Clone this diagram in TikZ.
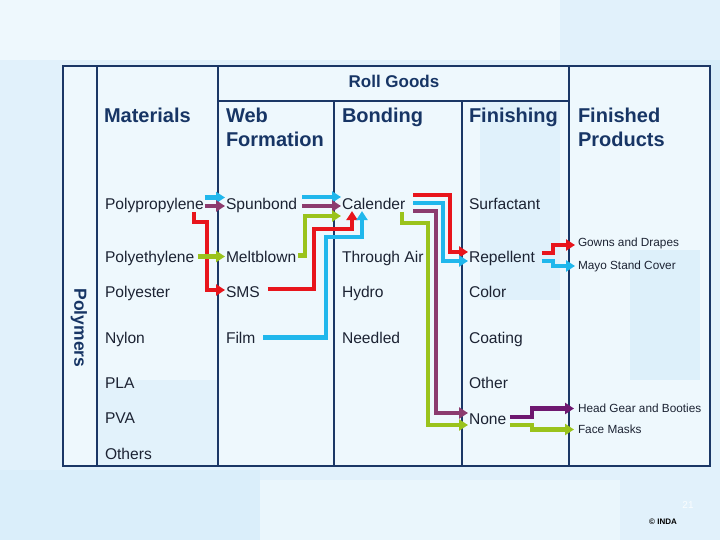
\documentclass[tikz,border=0pt]{standalone}
\usepackage{fontspec}
\setmainfont{Liberation Sans}
\usetikzlibrary{arrows.meta}
\definecolor{navy}{HTML}{173565}
\definecolor{framec}{HTML}{1B3766}
\definecolor{itemc}{HTML}{1C2333}
\definecolor{bgc}{HTML}{E1F1FB}
\definecolor{bgl}{HTML}{EEF8FD}
\definecolor{bgd}{HTML}{D6ECF9}
\definecolor{cy}{HTML}{20B7EC}
\definecolor{mauve}{HTML}{8C3B6E}
\definecolor{grn}{HTML}{9AC31C}
\definecolor{rd}{HTML}{E8151C}
\definecolor{dpurp}{HTML}{6E1870}
\tikzset{
  itm/.style={anchor=west, inner sep=0pt, outer sep=0pt, text height=11.2pt, text depth=0pt,
    font=\fontsize{15.6}{18}\selectfont, text=itemc},
  prod/.style={anchor=west, inner sep=0pt, outer sep=0pt, text height=8.45pt, text depth=0pt,
    font=\fontsize{11.8}{14}\selectfont, text=itemc},
  hdr/.style={anchor=north west, inner sep=0pt, outer sep=0pt, align=left,
    font=\fontsize{20}{24}\selectfont\bfseries, text=navy},
  frame/.style={draw=framec, line width=2.5pt},
  conn/.style={line width=4.3pt, -{Triangle[length=9pt,width=11pt]}},
}
\begin{document}
\begin{tikzpicture}[x=1pt,y=-1pt]
\useasboundingbox (0,0) rectangle (720,540);
% background
\fill[bgc] (0,0) rectangle (720,540);
\fill[bgl] (0,0) rectangle (560,60);
\fill[bgd] (620,60) rectangle (720,110);
\fill[bgl] (63,66) rectangle (710,466);
\fill[bgd!60!bgl] (480,100) rectangle (560,300);
\fill[bgd!70!bgl] (630,250) rectangle (700,380);
\fill[bgd!50!bgl] (97,380) rectangle (218,466);
\fill[bgd!60!bgc] (0,470) rectangle (260,540);
\fill[bgl!70!bgc] (260,480) rectangle (620,540);
% frame
\draw[frame] (63,66) rectangle (710,466);
\draw[frame] (97,66) -- (97,466);
\draw[frame] (218,66) -- (218,466);
\draw[frame] (569,66) -- (569,466);
\draw[frame] (218,101) -- (569,101);
\draw[frame] (334,101) -- (334,466);
\draw[frame] (462,101) -- (462,466);
% titles
\node[inner sep=0pt, font=\fontsize{17}{20}\selectfont\bfseries, text=navy] (rg) at (394,81) {Roll Goods};
\node[inner sep=0pt, rotate=-90, font=\fontsize{17.5}{20}\selectfont\bfseries, text=navy] (poly) at (79,328) {Polymers};
\node[hdr] (hmat) at (104,108.5) {Materials};
\node[hdr] (hweb) at (226,108.5) {Web\\Formation};
\node[hdr] (hbond) at (342,108.5) {Bonding};
\node[hdr] (hfin) at (469,108.5) {Finishing};
\node[hdr] (hprod) at (578,108.5) {Finished\\Products};
% materials
\node[itm] (pp) at (105,204) {Polypropylene};
\node[itm] (pe) at (105,256.5) {Polyethylene};
\node[itm] (pest) at (105,292) {Polyester};
\node[itm] (nyl) at (105,337.5) {Nylon};
\node[itm] (pla) at (105,382.5) {PLA};
\node[itm] (pva) at (105,418) {PVA};
\node[itm] (oth) at (105,454) {Others};
% web formation
\node[itm] (spun) at (226,204) {Spunbond};
\node[itm] (mb) at (226,256.5) {Meltblown};
\node[itm] (sms) at (226,292) {SMS};
\node[itm] (film) at (226,337.5) {Film};
% bonding
\node[itm] (cal) at (342,204) {Calender};
\node[itm] (tair) at (342,256.5) {Through Air};
\node[itm] (hyd) at (342,292) {Hydro};
\node[itm] (need) at (342,337.5) {Needled};
% finishing
\node[itm] (surf) at (469,204) {Surfactant};
\node[itm] (rep) at (469,256.5) {Repellent};
\node[itm] (col) at (469,292) {Color};
\node[itm] (coat) at (469,337.5) {Coating};
\node[itm] (othr) at (469,382.5) {Other};
\node[itm] (none) at (469,419) {None};
% products
\node[prod] (gown) at (578,242.5) {Gowns and Drapes};
\node[prod] (mayo) at (578,265) {Mayo Stand Cover};
\node[prod] (head) at (578,408.5) {Head Gear and Booties};
\node[prod] (face) at (578,429.5) {Face Masks};
% footer
\node[inner sep=0pt, font=\fontsize{10}{12}\selectfont, text=white!85!bgc] (pg) at (688,505) {21};
\node[inner sep=0pt, font=\fontsize{8}{10}\selectfont\bfseries, text=black] (inda) at (663,522) {© INDA};
% connectors
\draw[conn,cy] ([xshift=1pt,yshift=6.5pt]pp.east) -- ([xshift=-1pt,yshift=6.5pt]spun.west);
\draw[conn,mauve] ([xshift=1pt,yshift=-2pt]pp.east) -- ([xshift=-1pt,yshift=-2pt]spun.west);
\draw[conn,rd] ([xshift=-10pt,yshift=-8pt]pp.east) |- (207,222) |- ([xshift=-1pt,yshift=2pt]sms.west);
\draw[conn,grn] ([xshift=3.5pt]pe.east) -- ([xshift=-1pt]mb.west);
\draw[conn,cy] ([xshift=5pt,yshift=7pt]spun.east) -- ([xshift=-1pt,yshift=7pt]cal.west);
\draw[conn,mauve] ([xshift=5pt,yshift=-2pt]spun.east) -- ([xshift=-1pt,yshift=-2pt]cal.west);
\draw[conn,grn] ([xshift=2pt,yshift=1pt]mb.east) -| (305,216) -- ([xshift=-1pt,yshift=-12pt]cal.west);
\draw[conn,rd] ([xshift=8pt,yshift=3pt]sms.east) -| (314,229) -| ([xshift=10pt,yshift=-1.5pt]cal.south west);
\draw[conn,cy] ([xshift=8pt]film.east) -| (326,237) -| ([xshift=20pt,yshift=-1.5pt]cal.south west);
\draw[conn,rd] ([xshift=8pt,yshift=9pt]cal.east) -| (450,252) -- ([xshift=-1pt,yshift=4.5pt]rep.west);
\draw[conn,cy] ([xshift=8pt,yshift=1pt]cal.east) -| (443,261) -- ([xshift=-1pt,yshift=-4.5pt]rep.west);
\draw[conn,mauve] ([xshift=8pt,yshift=-7pt]cal.east) -| (436,413) -- ([xshift=-1pt,yshift=6pt]none.west);
\draw[conn,grn] ([xshift=-3pt,yshift=-8.5pt]cal.east) |- (428,223) |- ([xshift=-1pt,yshift=-6pt]none.west);
\draw[conn,rd] ([xshift=7pt,yshift=3.5pt]rep.east) -| (553,245) -- ([xshift=-3pt,yshift=-2.5pt]gown.west);
\draw[conn,cy] ([xshift=7pt,yshift=-4.5pt]rep.east) -| (553,266) -- ([xshift=-3pt,yshift=-1pt]mayo.west);
\draw[conn,dpurp] ([xshift=3.5pt,yshift=2.3pt]none.east) -| (532,408.5) -- ([xshift=-4pt]head.west);
\draw[conn,grn] ([xshift=3.5pt,yshift=-6pt]none.east) -| (532,429.5) -- ([xshift=-4pt]face.west);
\end{tikzpicture}
\end{document}
